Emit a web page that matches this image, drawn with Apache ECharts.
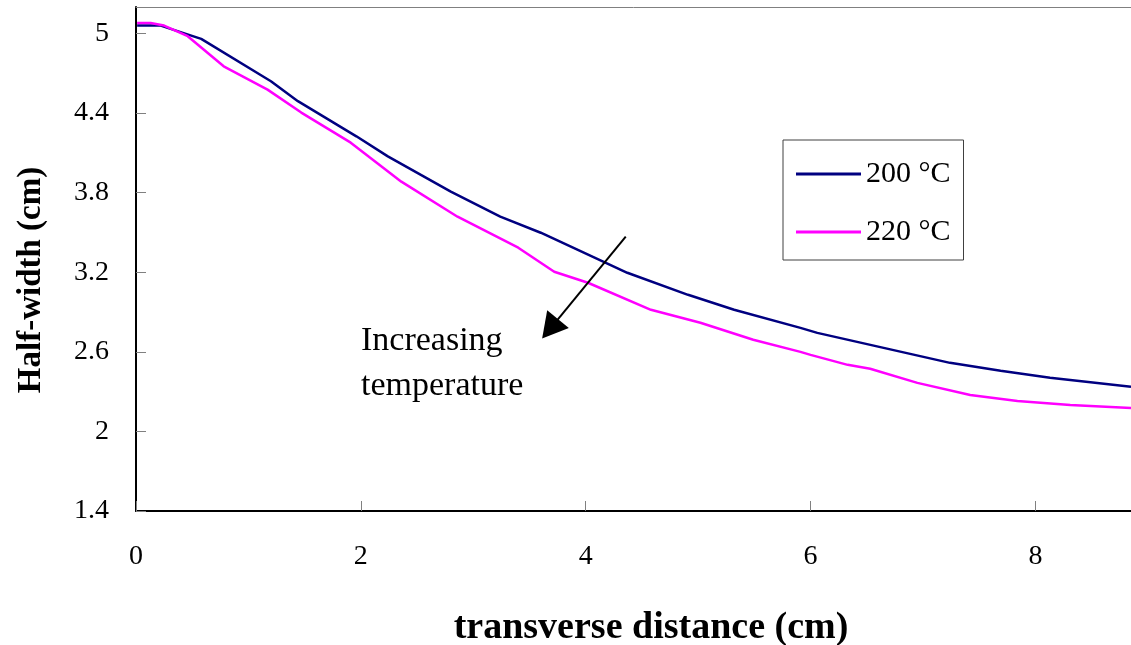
<!DOCTYPE html>
<html>
<head>
<meta charset="utf-8">
<script src="https://cdn.jsdelivr.net/npm/echarts@6/dist/echarts.min.js"></script>
<style>
html,body{margin:0;padding:0;background:#fff;}
#chart{width:1131px;height:645px;}
</style>
</head>
<body>
<div id="chart"></div>
<script>
// ---- data ----
const seriesNames = ['200 °C', '220 °C'];
const x200 = [0.01, 0.22, 0.58, 1.2, 1.44, 1.96, 2.24, 2.8, 3.24, 3.6, 4.16, 4.37, 4.91, 5.32, 5.91, 6.06, 6.65, 7.24, 7.69, 8.13, 8.85];
const y200 = [5.06, 5.06, 4.96, 4.64, 4.49, 4.225, 4.074, 3.808, 3.619, 3.498, 3.279, 3.196, 3.03, 2.917, 2.781, 2.743, 2.63, 2.517, 2.457, 2.404, 2.336];
const x220 = [0.01, 0.13, 0.25, 0.46, 0.78, 1.17, 1.47, 1.91, 2.36, 2.86, 3.4, 3.72, 4.02, 4.58, 5.02, 5.49, 5.91, 6.0, 6.33, 6.53, 6.95, 7.42, 7.84, 8.31, 8.85];
const y220 = [5.08, 5.08, 5.06, 4.98, 4.753, 4.577, 4.404, 4.177, 3.883, 3.619, 3.385, 3.204, 3.121, 2.917, 2.819, 2.691, 2.6, 2.577, 2.502, 2.472, 2.366, 2.275, 2.23, 2.2, 2.177];
const xTicks = [0, 2, 4, 6, 8];
const yTicks = [1.4, 2, 2.6, 3.2, 3.8, 4.4, 5];
const arrowStart = [4.356, 3.468];
const arrowEnd = [3.683, 2.774];
const annotation = 'Increasing\ntemperature';
const xTitle = 'transverse distance (cm)';
const yTitle = 'Half-width (cm)';

const FONT = "'Liberation Serif', 'Times New Roman', serif";
const zip = (xs, ys) => xs.map((x, i) => [x, ys[i]]);

const chart = echarts.init(document.getElementById('chart'), null, {renderer: 'canvas'});
chart.setOption({
  backgroundColor: '#ffffff',
  animation: false,
  grid: {left: 136, top: 7, right: 0, bottom: 134, containLabel: false},
  legend: {
    orient: 'vertical',
    left: 783, top: 140,
    padding: [19, 13, 13, 13],
    itemGap: 28,
    icon: 'rect',
    itemWidth: 65, itemHeight: 3,
    borderColor: '#404040', borderWidth: 1,
    backgroundColor: '#ffffff',
    textStyle: {fontFamily: FONT, fontSize: 30, color: '#000'},
    data: seriesNames
  },
  xAxis: [{
    type: 'value', min: 0, max: 8.85,
    axisLine: {show: true, lineStyle: {color: '#000', width: 2}},
    axisTick: {show: true, inside: true, length: 10, customValues: xTicks, lineStyle: {color: '#808080', width: 1}},
    axisLabel: {customValues: xTicks, margin: 32, fontFamily: FONT, fontSize: 28, color: '#000'},
    splitLine: {show: false}
  }, {
    type: 'value', position: 'top', min: 0, max: 8.85,
    axisLine: {show: true, onZero: false, lineStyle: {color: '#808080', width: 1}},
    axisTick: {show: false}, axisLabel: {show: false}, splitLine: {show: false}
  }],
  yAxis: {
    type: 'value', min: 1.4, max: 5.2,
    axisLine: {show: true, lineStyle: {color: '#000', width: 2}},
    axisTick: {show: true, inside: true, length: 10, customValues: yTicks, lineStyle: {color: '#808080', width: 1}},
    axisLabel: {customValues: yTicks, margin: 27, fontFamily: FONT, fontSize: 28, color: '#000'},
    splitLine: {show: false}
  },
  graphic: [
    {type: 'text', x: 31, y: 280, rotation: Math.PI / 2,
     style: {text: yTitle, fontFamily: FONT, fontSize: 33, fontWeight: 'bold', fill: '#000', align: 'center', verticalAlign: 'middle'}},
    {type: 'text', x: 651, y: 628,
     style: {text: xTitle, fontFamily: FONT, fontSize: 38, fontWeight: 'bold', fill: '#000', align: 'center', verticalAlign: 'middle'}},
    {type: 'text', x: 361, y: 319,
     style: {text: annotation, fontFamily: FONT, fontSize: 34, lineHeight: 45, fill: '#000', align: 'left', verticalAlign: 'top'}}
  ],
  series: [{
    name: seriesNames[0], type: 'line', data: zip(x200, y200),
    symbol: 'none', smooth: false,
    lineStyle: {color: '#000080', width: 2.5}, itemStyle: {color: '#000080'},
    markLine: {
      silent: true, symbol: ['none', 'triangle'], symbolSize: [28, 25],
      label: {show: false},
      lineStyle: {color: '#000', width: 2, type: 'solid'},
      itemStyle: {color: '#000'},
      data: [[{coord: arrowStart}, {coord: arrowEnd}]]
    }
  }, {
    name: seriesNames[1], type: 'line', data: zip(x220, y220),
    symbol: 'none', smooth: false,
    lineStyle: {color: '#FF00FF', width: 2.5}, itemStyle: {color: '#FF00FF'}
  }]
});
</script>
</body>
</html>
